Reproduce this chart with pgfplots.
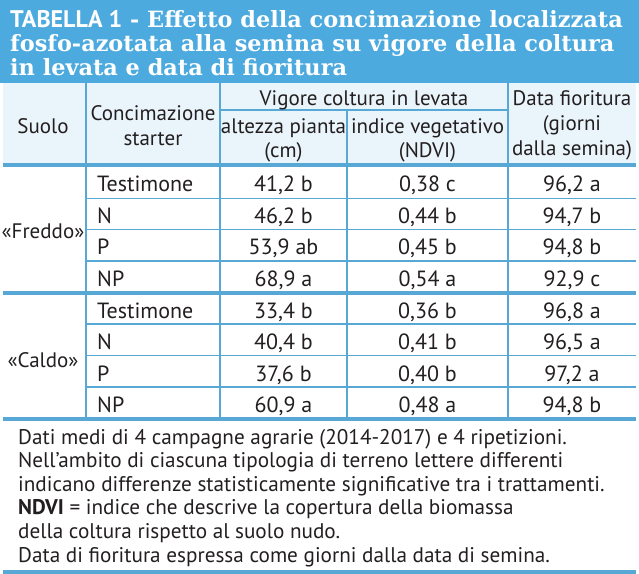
\documentclass[border=0pt]{standalone}
\usepackage{fontspec}
\setmainfont{PT Sans}
\newfontfamily\titlefont{DejaVu Serif}
\usepackage{pgfplots}
\usepackage{pgfplotstable}
\pgfplotsset{compat=1.18}
\definecolor{band}{RGB}{77,170,222}
\definecolor{hdr}{RGB}{234,244,251}
\definecolor{rule}{RGB}{88,168,214}
\definecolor{ink}{RGB}{35,31,32}
\newcommand\cell{\fontsize{22}{25}\selectfont}
\newcommand\head{\fontsize{21}{25}\selectfont}
\newcommand\note{\fontsize{21.2}{23}\selectfont}
\newcommand\ttl{\titlefont\bfseries\fontsize{22.4}{24}\selectfont}

\pgfplotstableread[col sep=semicolon]{
y;conc;alt;ndvi;fior
191.5;Testimone;41,2 b;0,38 c;96,2 a
223;N;46,2 b;0,44 b;94,7 b
254.5;P;53,9 ab;0,45 b;94,8 b
286;NP;68,9 a;0,54 a;92,9 c
318;Testimone;33,4 b;0,36 b;96,8 a
349.5;N;40,4 b;0,41 b;96,5 a
381;P;37,6 b;0,40 b;97,2 a
412.5;NP;60,9 a;0,48 a;94,8 b
}\datatable

\begin{document}
\begin{tikzpicture}
\begin{axis}[
  width=639pt, height=575pt, scale only axis,
  xmin=0, xmax=639, ymin=0, ymax=575, y dir=reverse,
  hide axis, clip=false,
  thin rule/.style={draw=rule, line width=1.2pt, mark=none},
  thick rule/.style={draw=rule, line width=4pt, mark=none},
  cellplot/.style={draw=none, mark=none, nodes near coords, point meta=explicit symbolic,
     every node near coord/.append style={anchor=base, font=\cell, text=ink, inner sep=0pt}},
]
% backgrounds
\addplot[fill=band, draw=none] coordinates {(0,0) (639,0) (639,83) (0,83)};
\addplot[fill=hdr, draw=none] coordinates {(3,83) (636,83) (636,165) (3,165)};
% vertical rules
\addplot[thin rule] coordinates {(86,83) (86,419)};
\addplot[thin rule] coordinates {(220,83) (220,419)};
\addplot[thin rule] coordinates {(347,110) (347,419)};
\addplot[thin rule] coordinates {(508,83) (508,419)};
% horizontal thin rules
\addplot[thin rule] coordinates {(220,110) (508,110)};
\addplot[thin rule] coordinates {(86,198.5) (636,198.5)};
\addplot[thin rule] coordinates {(86,229.5) (636,229.5)};
\addplot[thin rule] coordinates {(86,261) (636,261)};
\addplot[thin rule] coordinates {(86,324) (636,324)};
\addplot[thin rule] coordinates {(86,355.5) (636,355.5)};
\addplot[thin rule] coordinates {(86,387) (636,387)};
% thick rules
\addplot[thick rule] coordinates {(3,165) (636,165)};
\addplot[thick rule] coordinates {(3,292.5) (636,292.5)};
\addplot[thick rule] coordinates {(3,419) (636,419)};
\addplot[thick rule] coordinates {(3,571.5) (636,571.5)};
% title
\node[anchor=base west, text=white, inner sep=0pt] at (axis cs:10,27)
  {{\bfseries\fontsize{24}{24}\selectfont TABELLA 1}\ttl{} - Effetto della concimazione localizzata};
\node[anchor=base west, text=white, inner sep=0pt] at (axis cs:10,51.5)
  {\ttl fosfo-azotata alla semina su vigore della coltura};
\node[anchor=base west, text=white, inner sep=0pt] at (axis cs:10,75.5)
  {\ttl in levata e data di fioritura};
% header
\begin{scope}[every node/.style={anchor=base, text=ink, inner sep=0pt, font=\head}]
\node at (axis cs:43,133) {Suolo};
\node at (axis cs:153,120) {Concimazione};
\node at (axis cs:153,145) {starter};
\node at (axis cs:364,105) {Vigore coltura in levata};
\node at (axis cs:283.5,133) {altezza pianta};
\node at (axis cs:283.5,157) {(cm)};
\node at (axis cs:427.5,133) {indice vegetativo};
\node at (axis cs:427.5,157) {(NDVI)};
\node at (axis cs:572,105) {Data fioritura};
\node at (axis cs:572,130) {(giorni};
\node at (axis cs:572,155) {dalla semina)};
\node at (axis cs:43,238) {«Freddo»};
\node at (axis cs:43,367) {«Caldo»};
\end{scope}
% cells
\addplot[cellplot, every node near coord/.append style={anchor=base west}]
  table[x expr=97, y=y, meta=conc] {\datatable};
\addplot[cellplot] table[x expr=283.5, y=y, meta=alt] {\datatable};
\addplot[cellplot] table[x expr=427.5, y=y, meta=ndvi] {\datatable};
\addplot[cellplot] table[x expr=572, y=y, meta=fior] {\datatable};
% notes
\begin{scope}[every node/.style={anchor=base west, text=ink, inner sep=0pt, font=\note}]
\node at (axis cs:18,444) {Dati medi di 4 campagne agrarie (2014-2017) e 4 ripetizioni.};
\node at (axis cs:18,467.6) {Nell’ambito di ciascuna tipologia di terreno lettere differenti};
\node at (axis cs:18,491.2) {indicano differenze statisticamente significative tra i trattamenti.};
\node at (axis cs:18,514.8) {\textbf{NDVI} = indice che descrive la copertura della biomassa};
\node at (axis cs:18,538.4) {della coltura rispetto al suolo nudo.};
\node at (axis cs:18,562) {Data di fioritura espressa come giorni dalla data di semina.};
\end{scope}
\end{axis}
\end{tikzpicture}
\end{document}
